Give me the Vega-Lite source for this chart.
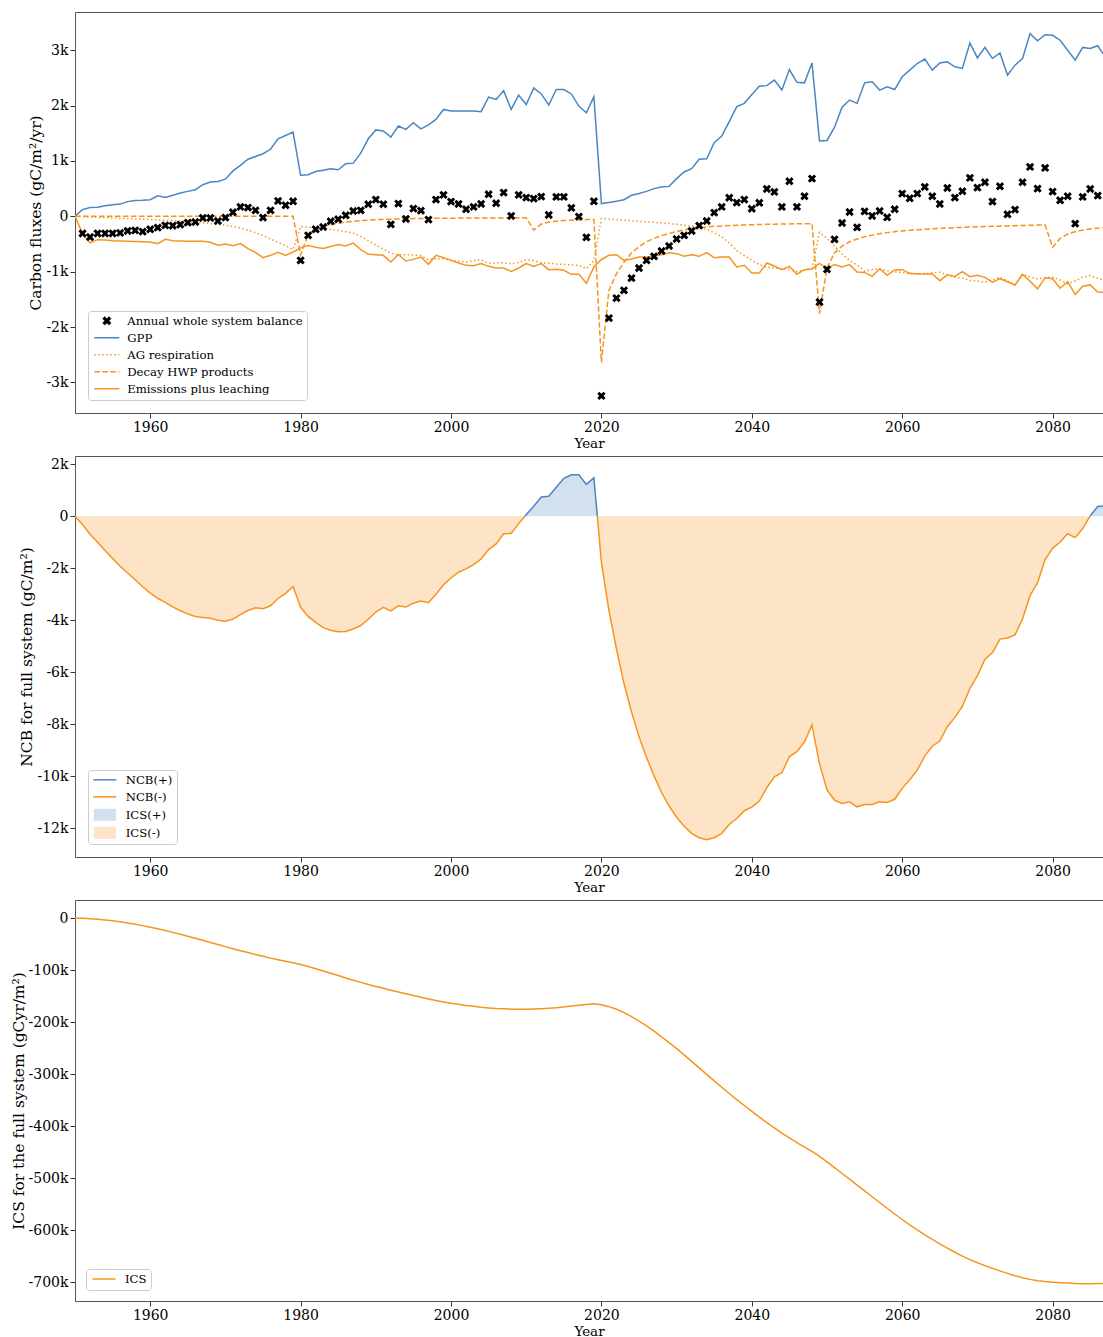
{
  "$schema": "https://vega.github.io/schema/vega-lite/v6.json",
  "padding": {"left": 11, "top": 12, "right": 0, "bottom": 0},
  "spacing": 43,
  "bounds": "flush",
  "resolve": {"scale": {"color": "independent"}, "legend": {"color": "independent"}},
  "datasets": {
    "flux": [
      {"year":1950,"gpp":0,"ag":0,"hwp":0,"em":0,"bal":null},
      {"year":1951,"gpp":120,"ag":-8,"hwp":0,"em":-313,"bal":-310},
      {"year":1952,"gpp":160,"ag":-14,"hwp":0,"em":-480,"bal":-375},
      {"year":1953,"gpp":165,"ag":-20,"hwp":0,"em":-422,"bal":-310},
      {"year":1954,"gpp":190,"ag":-25,"hwp":0,"em":-430,"bal":-310},
      {"year":1955,"gpp":210,"ag":-30,"hwp":0,"em":-440,"bal":-310},
      {"year":1956,"gpp":220,"ag":-35,"hwp":0,"em":-445,"bal":-300},
      {"year":1957,"gpp":265,"ag":-40,"hwp":0,"em":-450,"bal":-265},
      {"year":1958,"gpp":285,"ag":-47,"hwp":0,"em":-455,"bal":-255},
      {"year":1959,"gpp":290,"ag":-52,"hwp":0,"em":-460,"bal":-277},
      {"year":1960,"gpp":300,"ag":-58,"hwp":0,"em":-465,"bal":-235},
      {"year":1961,"gpp":370,"ag":-65,"hwp":0,"em":-494,"bal":-205},
      {"year":1962,"gpp":340,"ag":-72,"hwp":0,"em":-416,"bal":-163},
      {"year":1963,"gpp":380,"ag":-80,"hwp":0,"em":-440,"bal":-170},
      {"year":1964,"gpp":420,"ag":-88,"hwp":0,"em":-445,"bal":-150},
      {"year":1965,"gpp":450,"ag":-97,"hwp":0,"em":-450,"bal":-114},
      {"year":1966,"gpp":480,"ag":-107,"hwp":0,"em":-450,"bal":-103},
      {"year":1967,"gpp":570,"ag":-118,"hwp":0,"em":-453,"bal":-30},
      {"year":1968,"gpp":620,"ag":-130,"hwp":0,"em":-470,"bal":-30},
      {"year":1969,"gpp":630,"ag":-145,"hwp":0,"em":-524,"bal":-85},
      {"year":1970,"gpp":670,"ag":-160,"hwp":0,"em":-500,"bal":-24},
      {"year":1971,"gpp":820,"ag":-185,"hwp":0,"em":-530,"bal":72},
      {"year":1972,"gpp":920,"ag":-215,"hwp":0,"em":-494,"bal":169},
      {"year":1973,"gpp":1030,"ag":-250,"hwp":0,"em":-585,"bal":157},
      {"year":1974,"gpp":1080,"ag":-295,"hwp":0,"em":-650,"bal":108},
      {"year":1975,"gpp":1130,"ag":-345,"hwp":0,"em":-747,"bal":-24},
      {"year":1976,"gpp":1210,"ag":-410,"hwp":0,"em":-705,"bal":108},
      {"year":1977,"gpp":1400,"ag":-470,"hwp":0,"em":-650,"bal":277},
      {"year":1978,"gpp":1460,"ag":-530,"hwp":0,"em":-705,"bal":199},
      {"year":1979,"gpp":1520,"ag":-600,"hwp":0,"em":-645,"bal":271},
      {"year":1980,"gpp":740,"ag":-185,"hwp":-700,"em":-570,"bal":-796},
      {"year":1981,"gpp":750,"ag":-195,"hwp":-330,"em":-530,"bal":-344},
      {"year":1982,"gpp":810,"ag":-210,"hwp":-240,"em":-560,"bal":-235},
      {"year":1983,"gpp":830,"ag":-222,"hwp":-185,"em":-580,"bal":-193},
      {"year":1984,"gpp":860,"ag":-238,"hwp":-150,"em":-545,"bal":-90},
      {"year":1985,"gpp":840,"ag":-255,"hwp":-125,"em":-510,"bal":-54},
      {"year":1986,"gpp":950,"ag":-278,"hwp":-105,"em":-536,"bal":18},
      {"year":1987,"gpp":960,"ag":-305,"hwp":-90,"em":-485,"bal":96},
      {"year":1988,"gpp":1140,"ag":-360,"hwp":-80,"em":-600,"bal":108},
      {"year":1989,"gpp":1400,"ag":-440,"hwp":-70,"em":-687,"bal":217},
      {"year":1990,"gpp":1560,"ag":-520,"hwp":-62,"em":-693,"bal":302},
      {"year":1991,"gpp":1540,"ag":-590,"hwp":-56,"em":-705,"bal":217},
      {"year":1992,"gpp":1430,"ag":-665,"hwp":-52,"em":-826,"bal":-145},
      {"year":1993,"gpp":1630,"ag":-700,"hwp":-48,"em":-690,"bal":230},
      {"year":1994,"gpp":1570,"ag":-690,"hwp":-45,"em":-808,"bal":-48},
      {"year":1995,"gpp":1690,"ag":-700,"hwp":-42,"em":-778,"bal":139},
      {"year":1996,"gpp":1580,"ag":-710,"hwp":-40,"em":-736,"bal":103},
      {"year":1997,"gpp":1650,"ag":-790,"hwp":-38,"em":-868,"bal":-60},
      {"year":1998,"gpp":1750,"ag":-760,"hwp":-36,"em":-705,"bal":302},
      {"year":1999,"gpp":1930,"ag":-770,"hwp":-35,"em":-747,"bal":386},
      {"year":2000,"gpp":1900,"ag":-790,"hwp":-34,"em":-796,"bal":265},
      {"year":2001,"gpp":1900,"ag":-810,"hwp":-33,"em":-844,"bal":223},
      {"year":2002,"gpp":1900,"ag":-825,"hwp":-32,"em":-886,"bal":127},
      {"year":2003,"gpp":1900,"ag":-800,"hwp":-31,"em":-892,"bal":169},
      {"year":2004,"gpp":1890,"ag":-785,"hwp":-30,"em":-855,"bal":223},
      {"year":2005,"gpp":2150,"ag":-850,"hwp":-30,"em":-904,"bal":398},
      {"year":2006,"gpp":2110,"ag":-840,"hwp":-29,"em":-934,"bal":235},
      {"year":2007,"gpp":2270,"ag":-840,"hwp":-29,"em":-934,"bal":428},
      {"year":2008,"gpp":1930,"ag":-860,"hwp":-28,"em":-995,"bal":6},
      {"year":2009,"gpp":2190,"ag":-830,"hwp":-28,"em":-934,"bal":386},
      {"year":2010,"gpp":2020,"ag":-785,"hwp":-28,"em":-855,"bal":338},
      {"year":2011,"gpp":2320,"ag":-800,"hwp":-250,"em":-904,"bal":320},
      {"year":2012,"gpp":2210,"ag":-840,"hwp":-140,"em":-855,"bal":356},
      {"year":2013,"gpp":2010,"ag":-850,"hwp":-105,"em":-964,"bal":24},
      {"year":2014,"gpp":2290,"ag":-860,"hwp":-88,"em":-958,"bal":350},
      {"year":2015,"gpp":2290,"ag":-870,"hwp":-77,"em":-976,"bal":350},
      {"year":2016,"gpp":2210,"ag":-880,"hwp":-70,"em":-1049,"bal":151},
      {"year":2017,"gpp":1990,"ag":-890,"hwp":-64,"em":-1045,"bal":-5},
      {"year":2018,"gpp":1870,"ag":-946,"hwp":-60,"em":-1210,"bal":-380},
      {"year":2019,"gpp":2160,"ag":-800,"hwp":-57,"em":-916,"bal":271},
      {"year":2020,"gpp":230,"ag":-40,"hwp":-2640,"em":-780,"bal":-3243},
      {"year":2021,"gpp":250,"ag":-50,"hwp":-1340,"em":-705,"bal":-1839},
      {"year":2022,"gpp":270,"ag":-60,"hwp":-1040,"em":-693,"bal":-1477},
      {"year":2023,"gpp":300,"ag":-70,"hwp":-830,"em":-796,"bal":-1338},
      {"year":2024,"gpp":380,"ag":-80,"hwp":-660,"em":-772,"bal":-1116},
      {"year":2025,"gpp":410,"ag":-90,"hwp":-550,"em":-736,"bal":-935},
      {"year":2026,"gpp":450,"ag":-100,"hwp":-460,"em":-736,"bal":-796},
      {"year":2027,"gpp":500,"ag":-110,"hwp":-400,"em":-717,"bal":-723},
      {"year":2028,"gpp":530,"ag":-120,"hwp":-350,"em":-693,"bal":-627},
      {"year":2029,"gpp":540,"ag":-132,"hwp":-310,"em":-657,"bal":-537},
      {"year":2030,"gpp":680,"ag":-145,"hwp":-275,"em":-675,"bal":-410},
      {"year":2031,"gpp":800,"ag":-160,"hwp":-245,"em":-723,"bal":-344},
      {"year":2032,"gpp":860,"ag":-180,"hwp":-222,"em":-693,"bal":-265},
      {"year":2033,"gpp":1030,"ag":-205,"hwp":-205,"em":-723,"bal":-169},
      {"year":2034,"gpp":1040,"ag":-235,"hwp":-192,"em":-657,"bal":-85},
      {"year":2035,"gpp":1330,"ag":-300,"hwp":-182,"em":-747,"bal":66},
      {"year":2036,"gpp":1450,"ag":-370,"hwp":-174,"em":-736,"bal":169},
      {"year":2037,"gpp":1710,"ag":-480,"hwp":-167,"em":-736,"bal":335},
      {"year":2038,"gpp":1980,"ag":-620,"hwp":-161,"em":-916,"bal":247},
      {"year":2039,"gpp":2040,"ag":-710,"hwp":-156,"em":-886,"bal":302},
      {"year":2040,"gpp":2200,"ag":-800,"hwp":-152,"em":-1025,"bal":136},
      {"year":2041,"gpp":2350,"ag":-870,"hwp":-148,"em":-1025,"bal":244},
      {"year":2042,"gpp":2360,"ag":-920,"hwp":-145,"em":-844,"bal":494},
      {"year":2043,"gpp":2460,"ag":-935,"hwp":-142,"em":-898,"bal":440},
      {"year":2044,"gpp":2280,"ag":-946,"hwp":-140,"em":-964,"bal":169},
      {"year":2045,"gpp":2650,"ag":-960,"hwp":-138,"em":-904,"bal":633},
      {"year":2046,"gpp":2420,"ag":-1000,"hwp":-136,"em":-1049,"bal":169},
      {"year":2047,"gpp":2410,"ag":-965,"hwp":-134,"em":-964,"bal":362},
      {"year":2048,"gpp":2770,"ag":-940,"hwp":-132,"em":-952,"bal":681},
      {"year":2049,"gpp":1360,"ag":-290,"hwp":-1760,"em":-850,"bal":-1549},
      {"year":2050,"gpp":1370,"ag":-400,"hwp":-930,"em":-946,"bal":-958},
      {"year":2051,"gpp":1610,"ag":-540,"hwp":-660,"em":-870,"bal":-416},
      {"year":2052,"gpp":1970,"ag":-680,"hwp":-540,"em":-916,"bal":-121},
      {"year":2053,"gpp":2100,"ag":-800,"hwp":-460,"em":-873,"bal":78},
      {"year":2054,"gpp":2040,"ag":-880,"hwp":-410,"em":-1007,"bal":-199},
      {"year":2055,"gpp":2410,"ag":-990,"hwp":-370,"em":-1013,"bal":90},
      {"year":2056,"gpp":2430,"ag":-965,"hwp":-340,"em":-1085,"bal":6},
      {"year":2057,"gpp":2280,"ag":-950,"hwp":-315,"em":-946,"bal":96},
      {"year":2058,"gpp":2340,"ag":-985,"hwp":-295,"em":-1067,"bal":-18},
      {"year":2059,"gpp":2290,"ag":-1005,"hwp":-278,"em":-970,"bal":127},
      {"year":2060,"gpp":2520,"ag":-1015,"hwp":-264,"em":-964,"bal":410},
      {"year":2061,"gpp":2640,"ag":-1040,"hwp":-252,"em":-1031,"bal":325},
      {"year":2062,"gpp":2760,"ag":-1040,"hwp":-242,"em":-1043,"bal":410},
      {"year":2063,"gpp":2840,"ag":-1040,"hwp":-233,"em":-1043,"bal":530},
      {"year":2064,"gpp":2640,"ag":-1020,"hwp":-225,"em":-1043,"bal":362},
      {"year":2065,"gpp":2770,"ag":-1010,"hwp":-218,"em":-1163,"bal":223},
      {"year":2066,"gpp":2790,"ag":-1060,"hwp":-211,"em":-1058,"bal":512},
      {"year":2067,"gpp":2700,"ag":-1100,"hwp":-205,"em":-1085,"bal":338},
      {"year":2068,"gpp":2670,"ag":-1120,"hwp":-200,"em":-998,"bal":452},
      {"year":2069,"gpp":3130,"ag":-1160,"hwp":-195,"em":-1091,"bal":693},
      {"year":2070,"gpp":2860,"ag":-1170,"hwp":-190,"em":-1067,"bal":519},
      {"year":2071,"gpp":3050,"ag":-1190,"hwp":-186,"em":-1103,"bal":615},
      {"year":2072,"gpp":2850,"ag":-1150,"hwp":-182,"em":-1188,"bal":265},
      {"year":2073,"gpp":2950,"ag":-1100,"hwp":-178,"em":-1127,"bal":542},
      {"year":2074,"gpp":2550,"ag":-1170,"hwp":-174,"em":-1182,"bal":36},
      {"year":2075,"gpp":2730,"ag":-1240,"hwp":-170,"em":-1242,"bal":121},
      {"year":2076,"gpp":2850,"ag":-1040,"hwp":-166,"em":-1049,"bal":615},
      {"year":2077,"gpp":3300,"ag":-1100,"hwp":-162,"em":-1172,"bal":892},
      {"year":2078,"gpp":3170,"ag":-1130,"hwp":-158,"em":-1311,"bal":500},
      {"year":2079,"gpp":3280,"ag":-1110,"hwp":-155,"em":-1112,"bal":874},
      {"year":2080,"gpp":3270,"ag":-1100,"hwp":-560,"em":-1127,"bal":446},
      {"year":2081,"gpp":3180,"ag":-1150,"hwp":-400,"em":-1299,"bal":289},
      {"year":2082,"gpp":3000,"ag":-1220,"hwp":-320,"em":-1182,"bal":362},
      {"year":2083,"gpp":2820,"ag":-1170,"hwp":-280,"em":-1411,"bal":-133},
      {"year":2084,"gpp":3050,"ag":-1100,"hwp":-250,"em":-1263,"bal":350},
      {"year":2085,"gpp":3030,"ag":-1070,"hwp":-230,"em":-1239,"bal":494},
      {"year":2086,"gpp":3080,"ag":-1120,"hwp":-215,"em":-1369,"bal":374},
      {"year":2087,"gpp":2880,"ag":-1160,"hwp":-200,"em":-1375,"bal":null}
    ],
    "ncb": [
      {"year":1950,"pos":null,"neg":0},
      {"year":1951,"pos":null,"neg":-310},
      {"year":1952,"pos":null,"neg":-690},
      {"year":1953,"pos":null,"neg":-1000},
      {"year":1954,"pos":null,"neg":-1310},
      {"year":1955,"pos":null,"neg":-1620},
      {"year":1956,"pos":null,"neg":-1920},
      {"year":1957,"pos":null,"neg":-2180},
      {"year":1958,"pos":null,"neg":-2440},
      {"year":1959,"pos":null,"neg":-2710},
      {"year":1960,"pos":null,"neg":-2950},
      {"year":1961,"pos":null,"neg":-3150},
      {"year":1962,"pos":null,"neg":-3310},
      {"year":1963,"pos":null,"neg":-3480},
      {"year":1964,"pos":null,"neg":-3630},
      {"year":1965,"pos":null,"neg":-3750},
      {"year":1966,"pos":null,"neg":-3850},
      {"year":1967,"pos":null,"neg":-3890},
      {"year":1968,"pos":null,"neg":-3920},
      {"year":1969,"pos":null,"neg":-4000},
      {"year":1970,"pos":null,"neg":-4030},
      {"year":1971,"pos":null,"neg":-3950},
      {"year":1972,"pos":null,"neg":-3780},
      {"year":1973,"pos":null,"neg":-3620},
      {"year":1974,"pos":null,"neg":-3520},
      {"year":1975,"pos":null,"neg":-3550},
      {"year":1976,"pos":null,"neg":-3440},
      {"year":1977,"pos":null,"neg":-3160},
      {"year":1978,"pos":null,"neg":-2960},
      {"year":1979,"pos":null,"neg":-2700},
      {"year":1980,"pos":null,"neg":-3500},
      {"year":1981,"pos":null,"neg":-3850},
      {"year":1982,"pos":null,"neg":-4080},
      {"year":1983,"pos":null,"neg":-4280},
      {"year":1984,"pos":null,"neg":-4380},
      {"year":1985,"pos":null,"neg":-4440},
      {"year":1986,"pos":null,"neg":-4430},
      {"year":1987,"pos":null,"neg":-4330},
      {"year":1988,"pos":null,"neg":-4200},
      {"year":1989,"pos":null,"neg":-3960},
      {"year":1990,"pos":null,"neg":-3680},
      {"year":1991,"pos":null,"neg":-3500},
      {"year":1992,"pos":null,"neg":-3640},
      {"year":1993,"pos":null,"neg":-3440},
      {"year":1994,"pos":null,"neg":-3490},
      {"year":1995,"pos":null,"neg":-3340},
      {"year":1996,"pos":null,"neg":-3260},
      {"year":1997,"pos":null,"neg":-3320},
      {"year":1998,"pos":null,"neg":-3000},
      {"year":1999,"pos":null,"neg":-2630},
      {"year":2000,"pos":null,"neg":-2370},
      {"year":2001,"pos":null,"neg":-2150},
      {"year":2002,"pos":null,"neg":-2020},
      {"year":2003,"pos":null,"neg":-1860},
      {"year":2004,"pos":null,"neg":-1640},
      {"year":2005,"pos":null,"neg":-1280},
      {"year":2006,"pos":null,"neg":-1060},
      {"year":2007,"pos":null,"neg":-670},
      {"year":2008,"pos":null,"neg":-660},
      {"year":2009,"pos":null,"neg":-280},
      {"year":2009.82,"pos":0,"neg":0},
      {"year":2010,"pos":60,"neg":null},
      {"year":2011,"pos":390,"neg":null},
      {"year":2012,"pos":740,"neg":null},
      {"year":2013,"pos":770,"neg":null},
      {"year":2014,"pos":1120,"neg":null},
      {"year":2015,"pos":1460,"neg":null},
      {"year":2016,"pos":1600,"neg":null},
      {"year":2017,"pos":1600,"neg":null},
      {"year":2018,"pos":1230,"neg":null},
      {"year":2019,"pos":1480,"neg":null},
      {"year":2019.46,"pos":0,"neg":0},
      {"year":2020,"pos":null,"neg":-1770},
      {"year":2021,"pos":null,"neg":-3620},
      {"year":2022,"pos":null,"neg":-5100},
      {"year":2023,"pos":null,"neg":-6430},
      {"year":2024,"pos":null,"neg":-7520},
      {"year":2025,"pos":null,"neg":-8480},
      {"year":2026,"pos":null,"neg":-9270},
      {"year":2027,"pos":null,"neg":-9980},
      {"year":2028,"pos":null,"neg":-10620},
      {"year":2029,"pos":null,"neg":-11140},
      {"year":2030,"pos":null,"neg":-11570},
      {"year":2031,"pos":null,"neg":-11920},
      {"year":2032,"pos":null,"neg":-12190},
      {"year":2033,"pos":null,"neg":-12360},
      {"year":2034,"pos":null,"neg":-12440},
      {"year":2035,"pos":null,"neg":-12360},
      {"year":2036,"pos":null,"neg":-12190},
      {"year":2037,"pos":null,"neg":-11850},
      {"year":2038,"pos":null,"neg":-11620},
      {"year":2039,"pos":null,"neg":-11320},
      {"year":2040,"pos":null,"neg":-11180},
      {"year":2041,"pos":null,"neg":-10950},
      {"year":2042,"pos":null,"neg":-10430},
      {"year":2043,"pos":null,"neg":-10020},
      {"year":2044,"pos":null,"neg":-9860},
      {"year":2045,"pos":null,"neg":-9240},
      {"year":2046,"pos":null,"neg":-9050},
      {"year":2047,"pos":null,"neg":-8680},
      {"year":2048,"pos":null,"neg":-8020},
      {"year":2049,"pos":null,"neg":-9520},
      {"year":2050,"pos":null,"neg":-10520},
      {"year":2051,"pos":null,"neg":-10920},
      {"year":2052,"pos":null,"neg":-11040},
      {"year":2053,"pos":null,"neg":-10980},
      {"year":2054,"pos":null,"neg":-11170},
      {"year":2055,"pos":null,"neg":-11080},
      {"year":2056,"pos":null,"neg":-11080},
      {"year":2057,"pos":null,"neg":-10980},
      {"year":2058,"pos":null,"neg":-11000},
      {"year":2059,"pos":null,"neg":-10880},
      {"year":2060,"pos":null,"neg":-10460},
      {"year":2061,"pos":null,"neg":-10130},
      {"year":2062,"pos":null,"neg":-9760},
      {"year":2063,"pos":null,"neg":-9220},
      {"year":2064,"pos":null,"neg":-8840},
      {"year":2065,"pos":null,"neg":-8640},
      {"year":2066,"pos":null,"neg":-8090},
      {"year":2067,"pos":null,"neg":-7730},
      {"year":2068,"pos":null,"neg":-7310},
      {"year":2069,"pos":null,"neg":-6620},
      {"year":2070,"pos":null,"neg":-6130},
      {"year":2071,"pos":null,"neg":-5500},
      {"year":2072,"pos":null,"neg":-5240},
      {"year":2073,"pos":null,"neg":-4720},
      {"year":2074,"pos":null,"neg":-4680},
      {"year":2075,"pos":null,"neg":-4560},
      {"year":2076,"pos":null,"neg":-3950},
      {"year":2077,"pos":null,"neg":-3050},
      {"year":2078,"pos":null,"neg":-2550},
      {"year":2079,"pos":null,"neg":-1660},
      {"year":2080,"pos":null,"neg":-1230},
      {"year":2081,"pos":null,"neg":-990},
      {"year":2082,"pos":null,"neg":-670},
      {"year":2083,"pos":null,"neg":-820},
      {"year":2084,"pos":null,"neg":-470},
      {"year":2084.96,"pos":0,"neg":0},
      {"year":2085,"pos":20,"neg":null},
      {"year":2086,"pos":380,"neg":null},
      {"year":2087,"pos":400,"neg":null}
    ],
    "ics": [
      {"year":1950,"ics":0},{"year":1951,"ics":-300},{"year":1952,"ics":-1000},{"year":1953,"ics":-2000},
      {"year":1954,"ics":-3300},{"year":1955,"ics":-5000},{"year":1956,"ics":-6900},{"year":1957,"ics":-9100},
      {"year":1958,"ics":-11600},{"year":1959,"ics":-14300},{"year":1960,"ics":-17300},{"year":1961,"ics":-20500},
      {"year":1962,"ics":-23800},{"year":1963,"ics":-27300},{"year":1964,"ics":-31000},{"year":1965,"ics":-34800},
      {"year":1966,"ics":-38700},{"year":1967,"ics":-42600},{"year":1968,"ics":-46600},{"year":1969,"ics":-50600},
      {"year":1970,"ics":-54700},{"year":1971,"ics":-58700},{"year":1972,"ics":-62500},{"year":1973,"ics":-66100},
      {"year":1974,"ics":-69700},{"year":1975,"ics":-73300},{"year":1976,"ics":-76800},{"year":1977,"ics":-80000},
      {"year":1978,"ics":-82900},{"year":1979,"ics":-85700},{"year":1980,"ics":-89200},{"year":1981,"ics":-93100},
      {"year":1982,"ics":-97200},{"year":1983,"ics":-101500},{"year":1984,"ics":-106000},{"year":1985,"ics":-110400},
      {"year":1986,"ics":-114900},{"year":1987,"ics":-119300},{"year":1988,"ics":-123500},{"year":1989,"ics":-127500},
      {"year":1990,"ics":-131300},{"year":1991,"ics":-134800},{"year":1992,"ics":-138500},{"year":1993,"ics":-141900},
      {"year":1994,"ics":-145500},{"year":1995,"ics":-148800},{"year":1996,"ics":-152100},{"year":1997,"ics":-155500},
      {"year":1998,"ics":-158500},{"year":1999,"ics":-161200},{"year":2000,"ics":-163600},{"year":2001,"ics":-165700},
      {"year":2002,"ics":-167800},{"year":2003,"ics":-169600},{"year":2004,"ics":-171300},{"year":2005,"ics":-172600},
      {"year":2006,"ics":-173700},{"year":2007,"ics":-174300},{"year":2008,"ics":-175000},{"year":2009,"ics":-175300},
      {"year":2010,"ics":-175200},{"year":2011,"ics":-174800},{"year":2012,"ics":-174100},{"year":2013,"ics":-173300},
      {"year":2014,"ics":-172200},{"year":2015,"ics":-170700},{"year":2016,"ics":-169100},{"year":2017,"ics":-167500},
      {"year":2018,"ics":-166200},{"year":2019,"ics":-164700},{"year":2020,"ics":-166500},{"year":2021,"ics":-170200},
      {"year":2022,"ics":-175300},{"year":2023,"ics":-181800},{"year":2024,"ics":-189400},{"year":2025,"ics":-198000},
      {"year":2026,"ics":-207400},{"year":2027,"ics":-217400},{"year":2028,"ics":-228200},{"year":2029,"ics":-239400},
      {"year":2030,"ics":-251100},{"year":2031,"ics":-263100},{"year":2032,"ics":-275400},{"year":2033,"ics":-287900},
      {"year":2034,"ics":-300500},{"year":2035,"ics":-313000},{"year":2036,"ics":-325300},{"year":2037,"ics":-337300},
      {"year":2038,"ics":-349000},{"year":2039,"ics":-360400},{"year":2040,"ics":-371700},{"year":2041,"ics":-382800},
      {"year":2042,"ics":-393300},{"year":2043,"ics":-403400},{"year":2044,"ics":-413400},{"year":2045,"ics":-422700},
      {"year":2046,"ics":-431900},{"year":2047,"ics":-440600},{"year":2048,"ics":-448700},{"year":2049,"ics":-458300},
      {"year":2050,"ics":-469000},{"year":2051,"ics":-480000},{"year":2052,"ics":-491200},{"year":2053,"ics":-502200},
      {"year":2054,"ics":-513500},{"year":2055,"ics":-524700},{"year":2056,"ics":-535900},{"year":2057,"ics":-547000},
      {"year":2058,"ics":-558100},{"year":2059,"ics":-569100},{"year":2060,"ics":-579700},{"year":2061,"ics":-589900},
      {"year":2062,"ics":-599700},{"year":2063,"ics":-609100},{"year":2064,"ics":-618000},{"year":2065,"ics":-626700},
      {"year":2066,"ics":-634900},{"year":2067,"ics":-642700},{"year":2068,"ics":-650100},{"year":2069,"ics":-656800},
      {"year":2070,"ics":-663000},{"year":2071,"ics":-668500},{"year":2072,"ics":-673800},{"year":2073,"ics":-678600},
      {"year":2074,"ics":-683300},{"year":2075,"ics":-687900},{"year":2076,"ics":-691900},{"year":2077,"ics":-694900},
      {"year":2078,"ics":-697500},{"year":2079,"ics":-699200},{"year":2080,"ics":-700400},{"year":2081,"ics":-701400},
      {"year":2082,"ics":-702100},{"year":2083,"ics":-702900},{"year":2084,"ics":-703400},{"year":2085,"ics":-703400},
      {"year":2086,"ics":-703000},{"year":2087,"ics":-702600}
    ]
  },
  "vconcat": [
    {
      "width": 1028,
      "height": 401,
      "data": {"name": "flux"},
      "encoding": {
        "x": {"field": "year", "type": "quantitative", "scale": {"domain": [1950, 2086.7], "nice": false, "zero": false}, "axis": null}
      },
      "layer": [
        {
          "mark": {"type": "line", "strokeWidth": 1.5, "clip": true},
          "encoding": {
            "x": {"field": "year", "type": "quantitative", "axis": {"values": [1960, 1980, 2000, 2020, 2040, 2060, 2080], "format": "d", "title": "Year"}},
            "y": {"field": "gpp", "type": "quantitative", "scale": {"domain": [-3553, 3690], "nice": false, "zero": false},
                  "axis": {"title": "Carbon fluxes (gC/m²/yr)", "values": [-3000, -2000, -1000, 0, 1000, 2000, 3000],
                           "labelExpr": "datum.value == 0 ? '0' : (datum.value < 0 ? '-' : '') + abs(datum.value) / 1000 + 'k'"}},
            "color": {
              "datum": "GPP", "type": "nominal",
              "scale": {"domain": ["Annual whole system balance", "GPP", "AG respiration", "Decay HWP products", "Emissions plus leaching"],
                        "range": ["#000000", "#4a86c0", "#f7941d", "#f7941d", "#f7941d"]},
              "legend": {
                "symbolOffset": 9, "labelOffset": 14.5, "offset": 13,
                "encode": {
                  "symbols": {
                    "update": {
                      "shape": {"signal": "datum.value === 'Annual whole system balance' ? 'M-0.34,-0.17L-0.17,-0.34L0,-0.17L0.17,-0.34L0.34,-0.17L0.17,0L0.34,0.17L0.17,0.34L0,0.17L-0.17,0.34L-0.34,0.17L-0.17,0Z' : 'stroke'"},
                      "fill": {"signal": "datum.value === 'Annual whole system balance' ? '#000000' : 'transparent'"},
                      "stroke": {"signal": "datum.value === 'Annual whole system balance' ? '#000000' : datum.value === 'GPP' ? '#4a86c0' : '#f7941d'"},
                      "strokeWidth": {"signal": "datum.value === 'Annual whole system balance' ? 0.5 : 1.5"},
                      "strokeDash": {"signal": "datum.value === 'AG respiration' ? [1.5, 2.5] : datum.value === 'Decay HWP products' ? [5.5, 2.5] : [1, 0]"},
                      "opacity": {"value": 1}
                    }
                  }
                }
              }
            }
          }
        },
        {
          "mark": {"type": "line", "strokeWidth": 1.5, "strokeDash": [1.5, 2.5], "clip": true},
          "encoding": {
            "y": {"field": "ag", "type": "quantitative", "axis": null},
            "color": {"datum": "AG respiration", "type": "nominal"}
          }
        },
        {
          "mark": {"type": "line", "strokeWidth": 1.5, "strokeDash": [5.5, 2.5], "clip": true},
          "encoding": {
            "y": {"field": "hwp", "type": "quantitative", "axis": null},
            "color": {"datum": "Decay HWP products", "type": "nominal"}
          }
        },
        {
          "mark": {"type": "line", "strokeWidth": 1.5, "clip": true},
          "encoding": {
            "y": {"field": "em", "type": "quantitative", "axis": null},
            "color": {"datum": "Emissions plus leaching", "type": "nominal"}
          }
        },
        {
          "mark": {"type": "point", "shape": "M-1,-0.5L-0.5,-1L0,-0.5L0.5,-1L1,-0.5L0.5,0L1,0.5L0.5,1L0,0.5L-0.5,1L-1,0.5L-0.5,0Z", "size": 70, "filled": true, "opacity": 1, "clip": true},
          "encoding": {
            "y": {"field": "bal", "type": "quantitative", "axis": null},
            "color": {"datum": "Annual whole system balance", "type": "nominal"}
          }
        },
        {
          "data": {"values": [{"label": "(a)"}]},
          "mark": {"type": "text", "fontSize": 16, "font": "DejaVu Serif", "color": "#000000", "align": "center", "baseline": "middle"},
          "encoding": {
            "x": {"datum": 2082.4, "type": "quantitative", "axis": {"orient": "top", "labels": false, "ticks": false, "title": null}},
            "y": {"datum": 3324, "type": "quantitative", "axis": null},
            "text": {"field": "label"}
          }
        }
      ],
      "resolve": {"axis": {"x": "independent", "y": "independent"}}
    },
    {
      "width": 1028,
      "height": 401,
      "data": {"name": "ncb"},
      "encoding": {
        "x": {"field": "year", "type": "quantitative", "scale": {"domain": [1950, 2086.7], "nice": false, "zero": false}, "axis": null}
      },
      "layer": [
        {
          "mark": {"type": "area", "opacity": 1, "clip": true, "invalid": "break-paths-filter-domains"},
          "encoding": {
            "x": {"field": "year", "type": "quantitative", "axis": {"values": [1960, 1980, 2000, 2020, 2040, 2060, 2080], "format": "d", "title": "Year"}},
            "y": {"field": "neg", "type": "quantitative", "scale": {"domain": [-13100, 2320], "nice": false, "zero": false},
                  "axis": {"title": "NCB for full system (gC/m²)", "values": [-12000, -10000, -8000, -6000, -4000, -2000, 0, 2000],
                           "labelExpr": "datum.value == 0 ? '0' : (datum.value < 0 ? '-' : '') + abs(datum.value) / 1000 + 'k'"}},
            "y2": {"datum": 0},
            "color": {
              "datum": "ICS(-)", "type": "nominal",
              "scale": {"domain": ["NCB(+)", "NCB(-)", "ICS(+)", "ICS(-)"], "range": ["#4a86c0", "#f7941d", "#d3e0ee", "#fde4c6"]},
              "legend": {
                "symbolSize": 100, "symbolOffset": 7, "labelOffset": 15, "offset": 13,
                "encode": {
                  "symbols": {
                    "update": {
                      "shape": {"signal": "datum.value === 'ICS(+)' || datum.value === 'ICS(-)' ? 'M-2.2,-1.2H2.2V1.2H-2.2Z' : 'M-2.3,0H2.3'"},
                      "fill": {"signal": "datum.value === 'ICS(+)' ? '#d3e0ee' : datum.value === 'ICS(-)' ? '#fde4c6' : 'transparent'"},
                      "stroke": {"signal": "datum.value === 'NCB(+)' ? '#4a86c0' : datum.value === 'NCB(-)' ? '#f7941d' : 'transparent'"},
                      "strokeWidth": {"signal": "datum.value === 'ICS(+)' || datum.value === 'ICS(-)' ? 0 : 1.5"},
                      "opacity": {"value": 1}
                    }
                  }
                }
              }
            }
          }
        },
        {
          "mark": {"type": "area", "opacity": 1, "clip": true, "invalid": "break-paths-filter-domains"},
          "encoding": {
            "y": {"field": "pos", "type": "quantitative", "axis": null},
            "y2": {"datum": 0},
            "color": {
              "datum": "ICS(+)", "type": "nominal",
              "legend": {
                "symbolSize": 100, "symbolOffset": 7, "labelOffset": 15, "offset": 13,
                "encode": {
                  "symbols": {
                    "update": {
                      "shape": {"signal": "datum.value === 'ICS(+)' || datum.value === 'ICS(-)' ? 'M-2.2,-1.2H2.2V1.2H-2.2Z' : 'M-2.3,0H2.3'"},
                      "fill": {"signal": "datum.value === 'ICS(+)' ? '#d3e0ee' : datum.value === 'ICS(-)' ? '#fde4c6' : 'transparent'"},
                      "stroke": {"signal": "datum.value === 'NCB(+)' ? '#4a86c0' : datum.value === 'NCB(-)' ? '#f7941d' : 'transparent'"},
                      "strokeWidth": {"signal": "datum.value === 'ICS(+)' || datum.value === 'ICS(-)' ? 0 : 1.5"},
                      "opacity": {"value": 1}
                    }
                  }
                }
              }
            }
          }
        },
        {
          "mark": {"type": "line", "strokeWidth": 1.5, "clip": true, "invalid": "break-paths-filter-domains"},
          "encoding": {
            "y": {"field": "neg", "type": "quantitative", "axis": null},
            "color": {
              "datum": "NCB(-)", "type": "nominal",
              "legend": {
                "symbolSize": 100, "symbolOffset": 7, "labelOffset": 15, "offset": 13,
                "encode": {
                  "symbols": {
                    "update": {
                      "shape": {"signal": "datum.value === 'ICS(+)' || datum.value === 'ICS(-)' ? 'M-2.2,-1.2H2.2V1.2H-2.2Z' : 'M-2.3,0H2.3'"},
                      "fill": {"signal": "datum.value === 'ICS(+)' ? '#d3e0ee' : datum.value === 'ICS(-)' ? '#fde4c6' : 'transparent'"},
                      "stroke": {"signal": "datum.value === 'NCB(+)' ? '#4a86c0' : datum.value === 'NCB(-)' ? '#f7941d' : 'transparent'"},
                      "strokeWidth": {"signal": "datum.value === 'ICS(+)' || datum.value === 'ICS(-)' ? 0 : 1.5"},
                      "opacity": {"value": 1}
                    }
                  }
                }
              }
            }
          }
        },
        {
          "mark": {"type": "line", "strokeWidth": 1.5, "clip": true, "invalid": "break-paths-filter-domains"},
          "encoding": {
            "y": {"field": "pos", "type": "quantitative", "axis": null},
            "color": {
              "datum": "NCB(+)", "type": "nominal",
              "legend": {
                "symbolSize": 100, "symbolOffset": 7, "labelOffset": 15, "offset": 13,
                "encode": {
                  "symbols": {
                    "update": {
                      "shape": {"signal": "datum.value === 'ICS(+)' || datum.value === 'ICS(-)' ? 'M-2.2,-1.2H2.2V1.2H-2.2Z' : 'M-2.3,0H2.3'"},
                      "fill": {"signal": "datum.value === 'ICS(+)' ? '#d3e0ee' : datum.value === 'ICS(-)' ? '#fde4c6' : 'transparent'"},
                      "stroke": {"signal": "datum.value === 'NCB(+)' ? '#4a86c0' : datum.value === 'NCB(-)' ? '#f7941d' : 'transparent'"},
                      "strokeWidth": {"signal": "datum.value === 'ICS(+)' || datum.value === 'ICS(-)' ? 0 : 1.5"},
                      "opacity": {"value": 1}
                    }
                  }
                }
              }
            }
          }
        },
        {
          "data": {"values": [{"label": "(b)"}]},
          "mark": {"type": "text", "fontSize": 16, "font": "DejaVu Serif", "color": "#000000", "align": "center", "baseline": "middle"},
          "encoding": {
            "x": {"datum": 2082.3, "type": "quantitative", "axis": {"orient": "top", "labels": false, "ticks": false, "title": null}},
            "y": {"datum": 1540, "type": "quantitative", "axis": null},
            "text": {"field": "label"}
          }
        }
      ],
      "resolve": {"axis": {"x": "independent", "y": "independent"}}
    },
    {
      "width": 1028,
      "height": 401,
      "data": {"name": "ics"},
      "encoding": {
        "x": {"field": "year", "type": "quantitative", "scale": {"domain": [1950, 2086.7], "nice": false, "zero": false}, "axis": null}
      },
      "layer": [
        {
          "mark": {"type": "line", "strokeWidth": 1.5, "clip": true},
          "encoding": {
            "x": {"field": "year", "type": "quantitative", "axis": {"values": [1960, 1980, 2000, 2020, 2040, 2060, 2080], "format": "d", "title": "Year"}},
            "y": {"field": "ics", "type": "quantitative", "scale": {"domain": [-736500, 35000], "nice": false, "zero": false},
                  "axis": {"title": "ICS for the full system (gCyr/m²)", "values": [-700000, -600000, -500000, -400000, -300000, -200000, -100000, 0],
                           "labelExpr": "datum.value == 0 ? '0' : (datum.value < 0 ? '-' : '') + abs(datum.value) / 1000 + 'k'"}},
            "color": {
              "datum": "ICS", "type": "nominal",
              "scale": {"domain": ["ICS"], "range": ["#f7941d"]},
              "legend": {"symbolType": "M-2.3,0H2.3", "symbolSize": 100, "symbolStrokeWidth": 1.5, "symbolOffset": 8, "labelOffset": 15, "offset": 11}
            }
          }
        },
        {
          "data": {"values": [{"label": "(c)"}]},
          "mark": {"type": "text", "fontSize": 16, "font": "DejaVu Serif", "color": "#000000", "align": "center", "baseline": "middle"},
          "encoding": {
            "x": {"datum": 2082.4, "type": "quantitative", "axis": {"orient": "top", "labels": false, "ticks": false, "title": null}},
            "y": {"datum": -3300, "type": "quantitative", "axis": null},
            "text": {"field": "label"}
          }
        }
      ],
      "resolve": {"axis": {"x": "independent", "y": "independent"}}
    }
  ],
  "config": {
    "font": "DejaVu Serif",
    "view": {"stroke": null},
    "axis": {
      "labelFont": "DejaVu Serif", "labelFontSize": 14, "labelColor": "#000000",
      "titleFont": "DejaVu Serif", "titleFontWeight": "normal", "titleColor": "#000000",
      "grid": false, "domainColor": "#555555", "domainWidth": 1, "tickColor": "#333333", "tickSize": 5, "labelPadding": 2
    },
    "axisY": {"titleFontSize": 15.5, "titlePadding": 2},
    "axisX": {"titleFontSize": 13.5, "titlePadding": 2},
    "legend": {
      "title": null, "orient": "bottom-left", "offset": 12,
      "labelFont": "DejaVu Serif", "labelFontSize": 11.7, "labelColor": "#000000", "labelOffset": 8, "labelLimit": 400,
      "symbolSize": 625, "symbolStrokeWidth": 1.5, "rowPadding": 4,
      "padding": 4, "strokeColor": "#cccccc", "fillColor": "#ffffff", "cornerRadius": 3
    }
  }
}
